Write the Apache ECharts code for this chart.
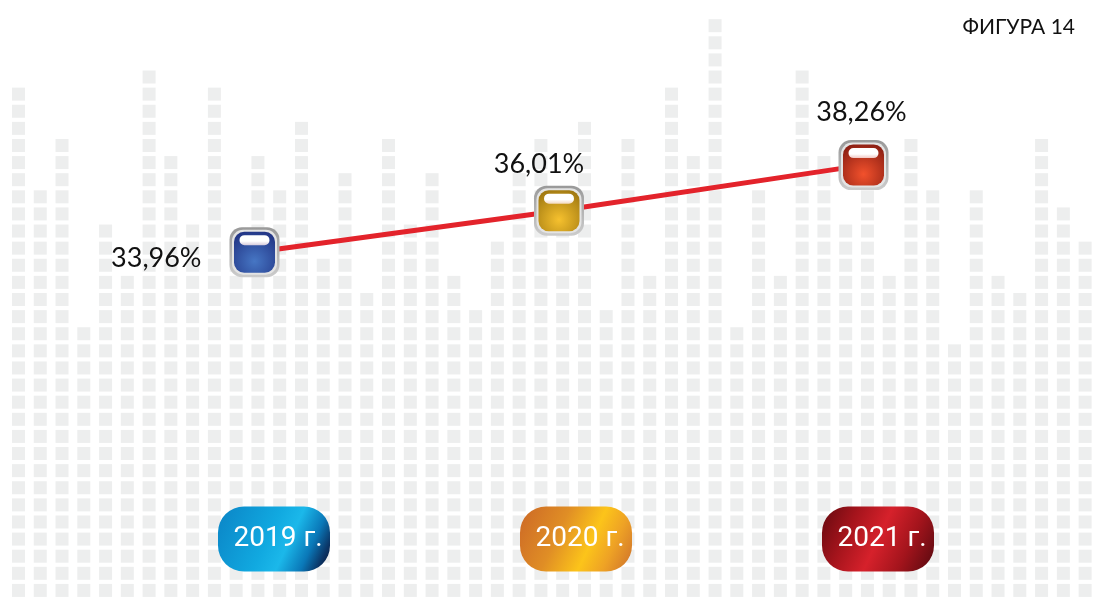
<!DOCTYPE html>
<html>
<head>
<meta charset="utf-8">
<script src="https://cdn.jsdelivr.net/npm/echarts@6/dist/echarts.min.js"></script>
<style>
  html, body { margin: 0; padding: 0; background: #ffffff; }
  #chart { width: 1096px; height: 599px; }
</style>
</head>
<body>
<div id="chart"></div>
<script>
  // data
  var years = ['2019 г.', '2020 г.', '2021 г.'];
  var shares = [33.96, 36.01, 38.26];
  // decorative background: number of squares in each column
  var columnHeights = [30, 24, 27, 16, 22, 19, 31, 26, 22, 30, 21, 26, 24, 28, 20, 25, 18,
    27, 22, 25, 19, 17, 21, 25, 27, 22, 28, 17, 27, 19, 30, 26, 34,
    16, 24, 19, 31, 26, 22, 24, 19, 27, 24, 15, 24, 19, 18, 27, 23, 21];
  var columnNames = columnHeights.map(function (h, i) { return 'c' + i; });

  // styles per year
  var markerFill = [['#4676c4', '#233686'], ['#f6c12e', '#a27a12'], ['#f2512c', '#8e2014']];
  var pillStops = [
    [[0, '#0b86c7'], [0.45, '#11a9e0'], [0.62, '#1bb8ea'], [0.8, '#0a78b8'], [0.92, '#0b3566'], [1, '#0b1637']],
    [[0, '#cd6a26'], [0.35, '#e08e25'], [0.62, '#fcc41a'], [0.8, '#eea225'], [1, '#d0742b']],
    [[0, '#6a0a10'], [0.25, '#a5141c'], [0.5, '#d6212b'], [0.75, '#a3141c'], [1, '#5c0a10']]
  ];
  var labelPlace = [
    { position: 'left', distance: 28, offset: [0, 6] },
    { position: 'top', distance: 8, offset: [-20, 0] },
    { position: 'top', distance: 14, offset: [-2, 0] }
  ];

  function fmt(v) {
    return v.toFixed(2).replace('.', ',') + '%';
  }

  var chart = echarts.init(document.getElementById('chart'), null, { renderer: 'canvas' });

  var frameData = shares.map(function (v, i) {
    return {
      value: v,
      label: {
        show: true,
        position: labelPlace[i].position,
        distance: labelPlace[i].distance,
        offset: labelPlace[i].offset,
        formatter: function (p) { return fmt(p.value); },
        color: '#111111',
        fontSize: 27,
        fontFamily: 'Lato',
        fontWeight: 'normal'
      }
    };
  });

  var innerData = shares.map(function (v, i) {
    return {
      value: v,
      itemStyle: {
        opacity: 1,
        color: new echarts.graphic.RadialGradient(0.5, 0.72, 0.75, [
          { offset: 0, color: markerFill[i][0] },
          { offset: 1, color: markerFill[i][1] }
        ])
      }
    };
  });

  var option = {
    backgroundColor: '#ffffff',
    animation: false,
    title: {
      text: 'ФИГУРА 14',
      right: 16,
      top: 12,
      textStyle: { fontSize: 21, fontWeight: 'normal', color: '#111', fontFamily: 'Lato' }
    },
    grid: [
      { left: 7.6, width: 1091, top: -19.2, bottom: -8.2 },
      { left: 102.25, width: 913.5, top: 129.9, height: 202.4 },
      { left: 123, width: 906, top: 500, height: 39 }
    ],
    xAxis: [
      { gridIndex: 0, type: 'category', data: columnNames, show: false },
      { gridIndex: 1, type: 'category', data: years, show: false },
      {
        gridIndex: 2, type: 'category', data: years, z: 20,
        axisLine: { show: false }, axisTick: { show: false }, splitLine: { show: false },
        axisLabel: {
          margin: 0,
          verticalAlign: 'middle',
          formatter: function (v, i) { return '{p' + i + '|' + v + '}'; },
          rich: (function () {
            var r = {};
            for (var i = 0; i < years.length; i++) {
              r['p' + i] = {
                width: 104,
                height: 65,
                lineHeight: 65,
                padding: [0, 0, 0, 8],
                align: 'center',
                color: '#ffffff',
                fontSize: 28,
                fontFamily: 'Roboto',
                borderRadius: 26,
                backgroundColor: new echarts.graphic.LinearGradient(0, 0.1, 1, 0.9,
                  pillStops[i].map(function (s) { return { offset: s[0], color: s[1] }; }))
              };
            }
            return r;
          })()
        }
      }
    ],
    yAxis: [
      { gridIndex: 0, type: 'value', min: 0, max: 36, show: false },
      { gridIndex: 1, type: 'value', min: 30, max: 40, show: false },
      { gridIndex: 2, type: 'value', show: false }
    ],
    series: [
      {
        type: 'pictorialBar',
        xAxisIndex: 0,
        yAxisIndex: 0,
        symbol: 'rect',
        symbolSize: [13, 13],
        symbolRepeat: true,
        symbolMargin: '2.2!',
        symbolBoundingData: 36,
        itemStyle: { color: '#edeeee' },
        silent: true,
        data: columnHeights,
        z: 1
      },
      {
        type: 'line',
        xAxisIndex: 1,
        yAxisIndex: 1,
        data: shares,
        showSymbol: false,
        lineStyle: { color: '#e3232b', width: 5 },
        z: 2
      },
      {
        // metal frame
        type: 'scatter',
        xAxisIndex: 1,
        yAxisIndex: 1,
        symbol: 'roundRect',
        symbolSize: 50,
        itemStyle: {
          opacity: 1,
          color: new echarts.graphic.LinearGradient(0, 0, 0, 1, [
            { offset: 0, color: '#999999' },
            { offset: 0.5, color: '#b3b3b3' },
            { offset: 1, color: '#cccccc' }
          ])
        },
        data: frameData,
        z: 3
      },
      {
        type: 'scatter',
        xAxisIndex: 1,
        yAxisIndex: 1,
        symbol: 'roundRect',
        symbolSize: 45,
        itemStyle: { color: '#e4e4e4', opacity: 1 },
        data: shares,
        z: 4
      },
      {
        type: 'scatter',
        xAxisIndex: 1,
        yAxisIndex: 1,
        symbol: 'roundRect',
        symbolSize: 41,
        itemStyle: { opacity: 1 },
        data: innerData,
        z: 5
      },
      {
        // gloss
        type: 'scatter',
        xAxisIndex: 1,
        yAxisIndex: 1,
        symbol: 'path://M5,0 H25 A5,5 0 0 1 25,10 H5 A5,5 0 0 1 5,0 Z',
        symbolSize: [30, 10],
        symbolOffset: [0, -12],
        itemStyle: {
          opacity: 1,
          color: new echarts.graphic.LinearGradient(0, 0, 0, 1, [
            { offset: 0, color: '#ffffff' },
            { offset: 0.6, color: '#ffffff' },
            { offset: 1, color: 'rgba(255,235,235,0.8)' }
          ])
        },
        data: shares,
        z: 6
      }
    ]
  };

  chart.setOption(option);
</script>
</body>
</html>
